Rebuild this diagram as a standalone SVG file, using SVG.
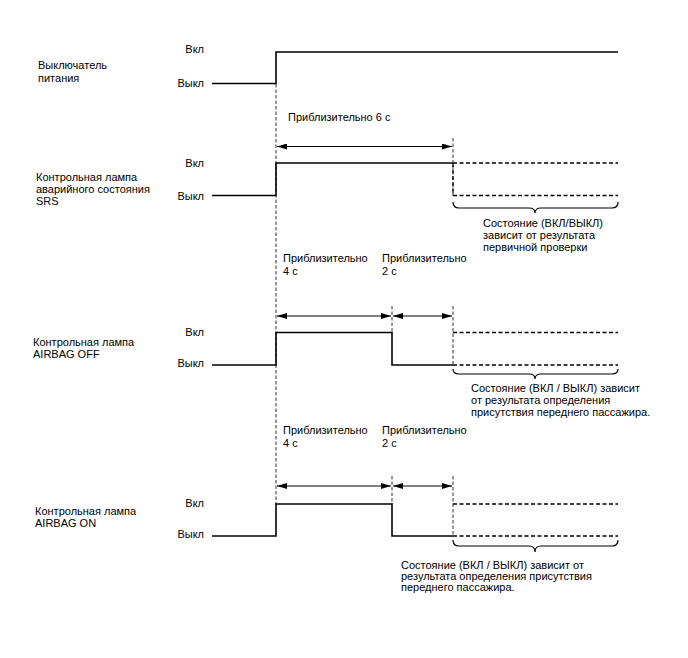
<svg xmlns="http://www.w3.org/2000/svg" width="688" height="658" viewBox="0 0 688 658">
<style>
text{font-family:"Liberation Sans",Arial,sans-serif;font-size:11px;fill:#000}
.sig{fill:none;stroke:#000;stroke-width:1.6}
.dsig{fill:none;stroke:#000;stroke-width:1.3;stroke-dasharray:4,2.5}
.ref{fill:none;stroke:#000;stroke-width:0.8;stroke-dasharray:3.5,2}
.dim{fill:none;stroke:#000;stroke-width:1;marker-start:url(#ah);marker-end:url(#ah)}
.brace{fill:none;stroke:#000;stroke-width:1.2}
.r{text-anchor:end}
</style>
<defs>
<marker id="ah" viewBox="0 0 10 6" refX="10" refY="3" markerWidth="10" markerHeight="6" markerUnits="userSpaceOnUse" orient="auto-start-reverse">
<path d="M0,0 L10,3 L0,6 Z" fill="#000"/>
</marker>
</defs>
<rect width="688" height="658" fill="#fff"/>

<g id="connectors">
<path class="ref" d="M276,84 V505"/>
<path class="ref" d="M453,138 V196"/>
<path class="ref" d="M392,306 V332"/>
<path class="ref" d="M453,306 V364"/>
<path class="ref" d="M392,476 V504"/>
<path class="ref" d="M453,476 V536"/>
<path class="dim" d="M277,146.5 H452"/>
<path class="dim" d="M277,316 H391"/>
<path class="dim" d="M393,316 H452"/>
<path class="dim" d="M277,486 H391"/>
<path class="dim" d="M393,486 H452"/>
</g>

<g id="power">
<text x="38" y="69">Выключатель</text>
<text x="38" y="82">питания</text>
<text class="r" x="204" y="53">Вкл</text>
<text class="r" x="204" y="87">Выкл</text>
<path class="sig" d="M212,83.5 H276 V52 H618"/>
</g>

<g id="srs">
<text x="36" y="181">Контрольная лампа</text>
<text x="36" y="193">аварийного состояния</text>
<text x="36" y="205">SRS</text>
<text class="r" x="204" y="167">Вкл</text>
<text class="r" x="204" y="200">Выкл</text>
<path class="sig" d="M212,195.5 H276 V163 H453"/>
<path class="dsig" d="M453,163 H618 M453,163 V195.5 H618"/>
<text x="288" y="121">Приблизительно 6 с</text>
<path class="brace" d="M453,202 Q453,208 459,208 H529 Q535,208 535,213 Q535,208 541,208 H612 Q618,208 618,202"/>
<text x="483" y="227">Состояние (ВКЛ/ВЫКЛ)</text>
<text x="483" y="239">зависит от результата</text>
<text x="483" y="251">первичной проверки</text>
</g>

<g id="airbag-off">
<text x="33" y="346">Контрольная лампа</text>
<text x="33" y="358">AIRBAG OFF</text>
<text class="r" x="204" y="336">Вкл</text>
<text class="r" x="204" y="367">Выкл</text>
<path class="sig" d="M212,365 H276 V332.5 H392 V365 H453"/>
<path class="dsig" d="M453,332.5 H618 M453,365 H618"/>
<text x="283" y="262">Приблизительно</text>
<text x="283" y="275">4 с</text>
<text x="382" y="262">Приблизительно</text>
<text x="382" y="275">2 с</text>
<path class="brace" d="M453,369 Q453,374 459,374 H529 Q535,374 535,379 Q535,374 541,374 H612 Q618,374 618,369"/>
<text x="471" y="392">Состояние (ВКЛ / ВЫКЛ) зависит</text>
<text x="471" y="404">от результата определения</text>
<text x="471" y="416">присутствия переднего пассажира.</text>
</g>

<g id="airbag-on">
<text x="35" y="515">Контрольная лампа</text>
<text x="35" y="527">AIRBAG ON</text>
<text class="r" x="204" y="507">Вкл</text>
<text class="r" x="204" y="538">Выкл</text>
<path class="sig" d="M212,536 H276 V504 H392 V536 H453"/>
<path class="dsig" d="M453,504 H618 M453,536 H618"/>
<text x="283" y="434">Приблизительно</text>
<text x="283" y="447">4 с</text>
<text x="382" y="434">Приблизительно</text>
<text x="382" y="447">2 с</text>
<path class="brace" d="M453,540 Q453,546 459,546 H529 Q535,546 535,552 Q535,546 541,546 H612 Q618,546 618,540"/>
<text x="401" y="569">Состояние (ВКЛ / ВЫКЛ) зависит от</text>
<text x="401" y="580">результата определения присутствия</text>
<text x="401" y="591">переднего пассажира.</text>
</g>
</svg>
